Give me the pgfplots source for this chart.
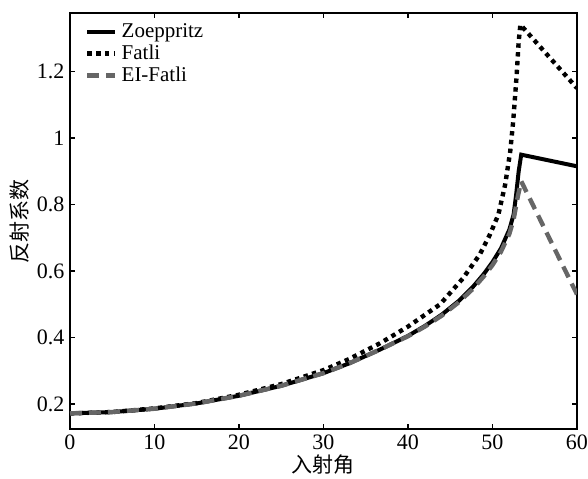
\documentclass[border=0pt]{standalone}
\usepackage{fontspec}
\setmainfont{Liberation Serif}
\newfontfamily\cjk{Noto Sans CJK SC}
\usepackage{pgfplots}
\pgfplotsset{compat=1.18}

\pgfplotstableread{
x y
0 0.172
5 0.176
10 0.186
15 0.202
20 0.225
25 0.255
30 0.293
33 0.322
36.7 0.364
40 0.405
42 0.435
44 0.469
46 0.510
47.7 0.553
49 0.592
50 0.627
51 0.668
52 0.725
52.5 0.770
52.8 0.830
53.1 0.900
53.4 0.950
60 0.915
}\zoep

\pgfplotstableread{
x y
0 0.172
5 0.176
10 0.187
15 0.203
20 0.228
25 0.260
30 0.302
33 0.335
36.7 0.383
40 0.433
43.8 0.500
46.5 0.578
48.5 0.650
49.7 0.710
50.7 0.770
51.5 0.860
52.1 0.960
52.45 1.050
52.85 1.186
53.1 1.290
53.3 1.341
60 1.150
}\fatli

\pgfplotstableread{
x y
0 0.172
5 0.176
10 0.186
15 0.202
20 0.225
25 0.255
30 0.293
33 0.322
36.7 0.364
40 0.404
42 0.433
44 0.466
46 0.506
47.7 0.547
49 0.585
50 0.618
51 0.658
52 0.712
52.5 0.755
53.0 0.825
53.4 0.870
60 0.530
}\eifatli

\begin{document}
\fontsize{11}{13}\selectfont
\begin{tikzpicture}
\useasboundingbox (-35pt,-24.5pt) rectangle (259pt,214.5pt);
\begin{axis}[
    at={(0,0)}, anchor=south west,
    scale only axis,
    width=253.5pt, height=208pt,
    xmin=0, xmax=60,
    ymin=0.125, ymax=1.376,
    xtick={0,10,...,60},
    ytick={0.2,0.4,0.6,0.8,1,1.2},
    yticklabels={0.2,0.4,0.6,0.8,1,1.2},
    tick align=inside,
    major tick length=2.5pt,
    axis line style={line width=1pt},
    tick style={line width=0.6pt, black},
    /pgf/number format/assume math mode=true,
    ticklabel style={font=\fontsize{11}{13}\selectfont},
    xticklabel style={yshift=1pt},
    yticklabel style={xshift=1pt},
    xlabel={\cjk 入射角},
    ylabel={\cjk 反射系数},
    xlabel style={at={(axis description cs:0.5,0)}, anchor=center, yshift=-18pt, font=\fontsize{10.5}{12}\selectfont},
    ylabel style={at={(axis description cs:-0.1,0.5)}, anchor=center, font=\fontsize{10.5}{12}\selectfont},
    legend style={draw=none, fill=none, at={(0.025,0.99)}, anchor=north west,
        font=\fontsize{10.5}{11}\selectfont, row sep=-2pt, inner sep=1pt},
    legend cell align=left,
    legend image code/.code={\draw[#1, line width=2.3pt] (0pt,0pt) -- (14pt,0pt);},
]
\addplot[black, line width=2pt] table {\zoep};
\addlegendentry{Zoeppritz}
\addplot[black, line width=2.2pt, dash pattern=on 2.2pt off 2.2pt] table {\fatli};
\addlegendentry{Fatli}
\addplot[black!60, line width=2.2pt, dash pattern=on 6pt off 3.5pt] table {\eifatli};
\addlegendentry{EI-Fatli}
\end{axis}
\end{tikzpicture}
\end{document}
